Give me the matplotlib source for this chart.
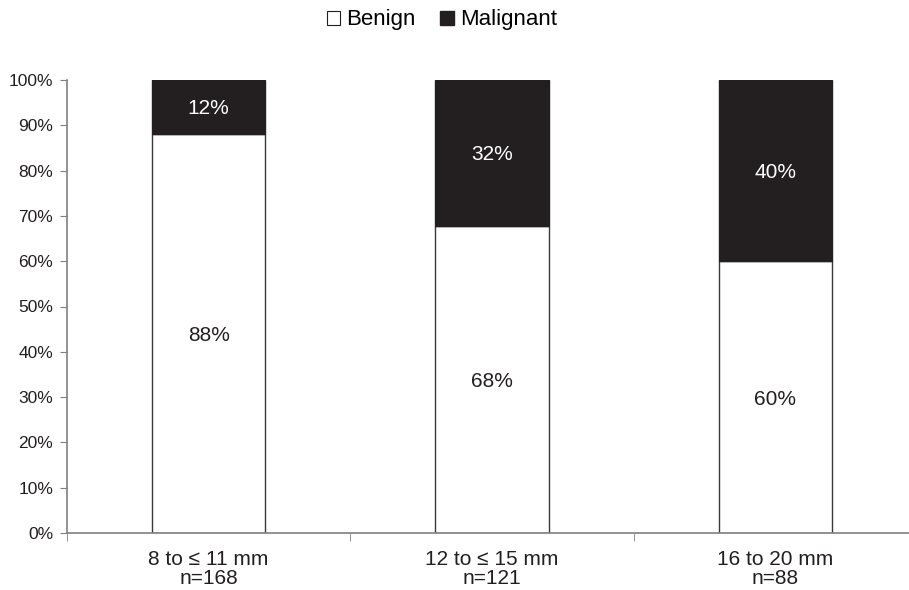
import matplotlib
matplotlib.use("Agg")
import matplotlib.pyplot as plt
from matplotlib.patches import Patch
import numpy as np

categories = ["8 to \u2264 11 mm\nn=168", "12 to \u2264 15 mm\nn=121", "16 to 20 mm\nn=88"]
benign = [88.1, 67.8, 60.0]
malignant = [11.9, 32.2, 40.0]
benign_labels = ["88%", "68%", "60%"]
malignant_labels = ["12%", "32%", "40%"]
yticks = [0, 10, 20, 30, 40, 50, 60, 70, 80, 90, 100]

plt.rcParams['font.family'] = ['Liberation Sans', 'DejaVu Sans']

fig = plt.figure(figsize=(9.09, 5.9), dpi=100)
ax = fig.add_axes([67/909, 1-533/590, (917-67)/909, (533-80)/590])

x = np.arange(len(categories))
w = 0.40
dark = "#231f20"
ax.bar(x, benign, w, color="white", edgecolor="#3a3a3a", linewidth=1.0, zorder=2)
ax.bar(x, malignant, w, bottom=benign, color=dark, edgecolor=dark, linewidth=1.0, zorder=2)

for i in range(len(x)):
    ax.text(x[i], benign[i] / 2, benign_labels[i], ha="center", va="center_baseline", fontsize=15, color="#231f20")
    ax.text(x[i], benign[i] + malignant[i] / 2, malignant_labels[i], ha="center", va="center_baseline", fontsize=15, color="white")

ax.set_xlim(-0.5, 2.5)
ax.set_ylim(0, 100)
ax.set_yticks(yticks)
ax.set_yticklabels([f"{v}%" for v in yticks], fontsize=12.5, color="#231f20")
ax.set_xticks(x)
ax.set_xticklabels(categories, fontsize=15, color="#231f20", linespacing=1.05)
ax.tick_params(axis="x", length=0, pad=12)
ax.set_xticks([-0.5, 0.5, 1.5, 2.5], minor=True)
ax.tick_params(axis="x", which="minor", length=6, direction="out", color="#808080")
ax.tick_params(axis="y", length=5, direction="out", color="#808080", pad=5)

for s in ["top", "right"]:
    ax.spines[s].set_visible(False)
for s in ["left", "bottom"]:
    ax.spines[s].set_color("#808080")
    ax.spines[s].set_linewidth(1.2)

handles = [Patch(facecolor="white", edgecolor="#231f20", linewidth=0.8, label="Benign"),
           Patch(facecolor=dark, edgecolor=dark, label="Malignant")]
fig.legend(handles=handles, loc="center", bbox_to_anchor=(442/909, 1-20/590), ncol=2,
           frameon=False, fontsize=16, handlelength=0.6, handleheight=0.6,
           handletextpad=0.3, columnspacing=1.1)

fig.savefig("out.png", dpi=100)
